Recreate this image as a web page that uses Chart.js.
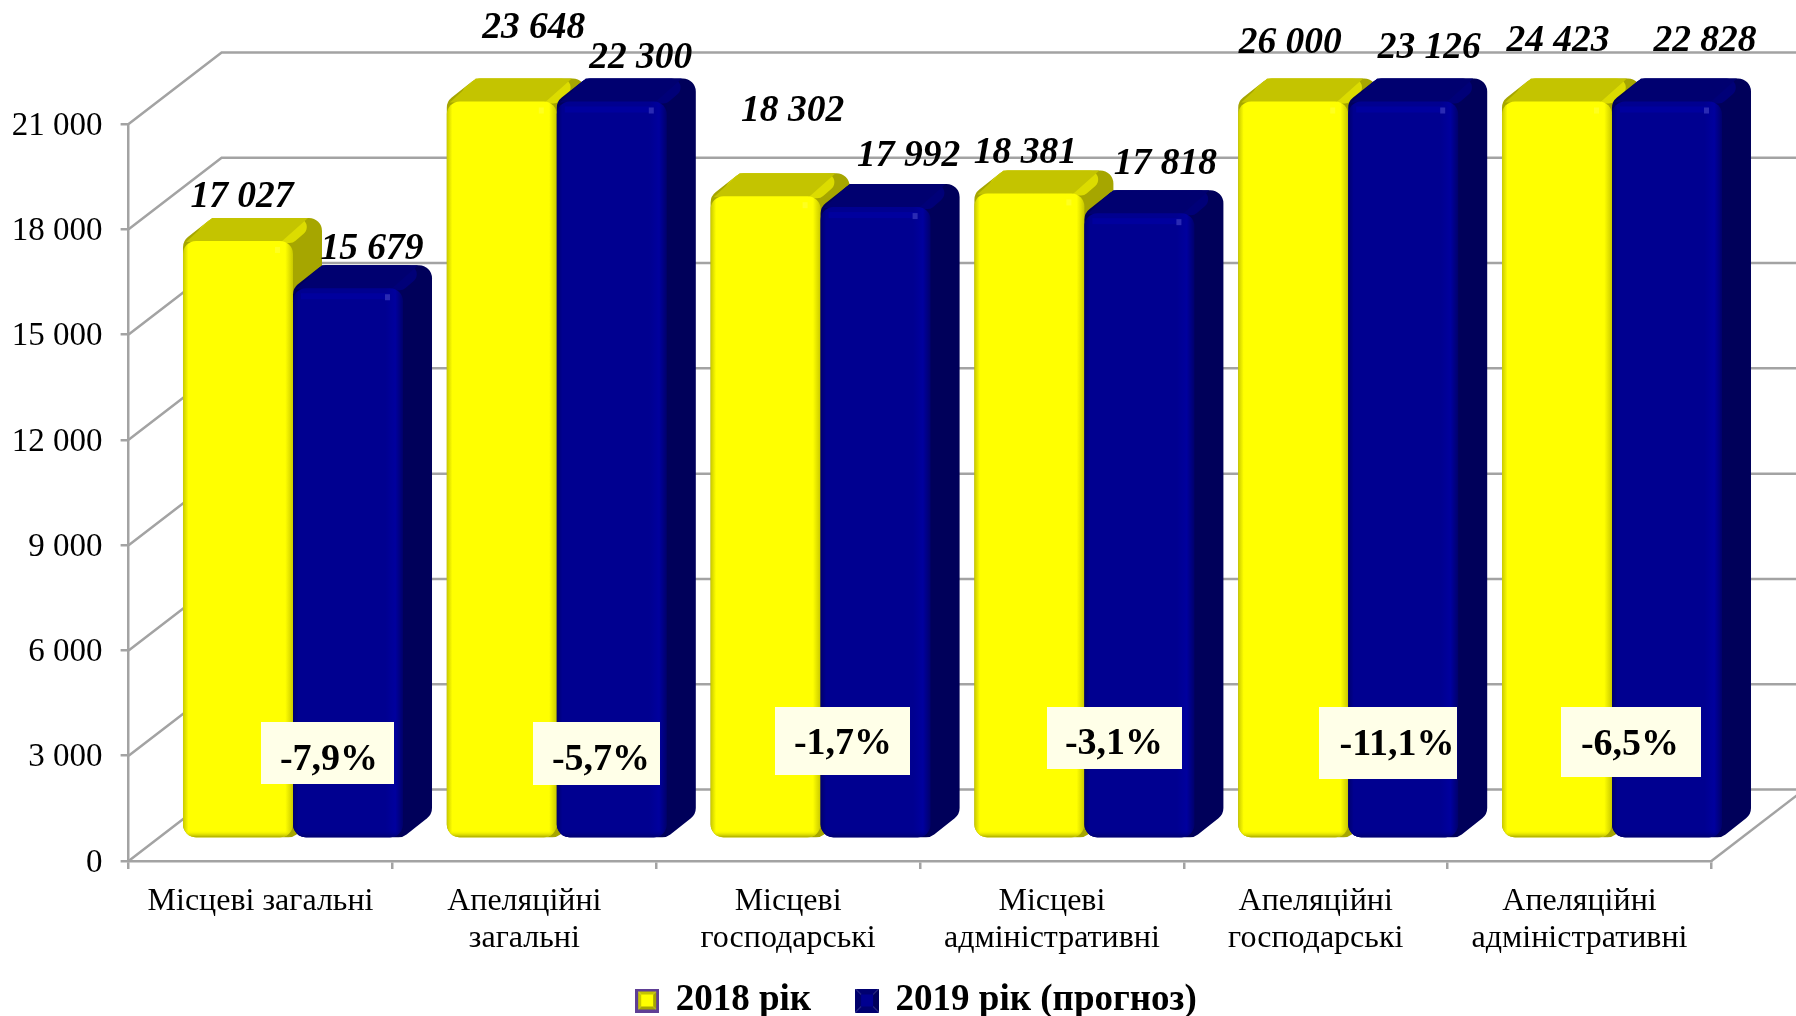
<!DOCTYPE html>
<html>
<head>
<meta charset="utf-8">
<title>Chart</title>
<script src="https://cdn.jsdelivr.net/npm/chart.js@4"></script>
<style>
  html, body { margin: 0; padding: 0; background: #fff; }
  #wrap { position: relative; width: 1796px; height: 1016px; overflow: hidden; }
</style>
</head>
<body>
<div id="wrap"><canvas id="courts"></canvas></div>
<script>
"use strict";

// Data
const categories = [
  "Місцеві загальні",
  ["Апеляційні", "загальні"],
  ["Місцеві", "господарські"],
  ["Місцеві", "адміністративні"],
  ["Апеляційні", "господарські"],
  ["Апеляційні", "адміністративні"]
];
const values2018 = [17027, 23648, 18302, 18381, 26000, 24423];
const values2019 = [15679, 22300, 17992, 17818, 23126, 22828];
const changeLabels = ["-7,9%", "-5,7%", "-1,7%", "-3,1%", "-11,1%", "-6,5%"];
const seriesNames = ["2018 рік", "2019 рік (прогноз)"];
const axisMax = 21000;
const axisStep = 3000;

// 3D look: wall depth, bar plane offset and bar depth, in px
const WALL_DX = 93, WALL_DY = 71.5;
const PLANE_DX = 32.5, PLANE_DY = 22.5;
const BAR_DX = 29, BAR_DY = 23;
const GRID = "#a3a3a3";
const FONT = "'Liberation Serif', 'Times New Roman', serif";

// Hand placed value labels, offset from the top centre of each bar
const labelOffsets = [
  [[4, -44], [32, -73], [27, -85], [-4, -40], [-3, -58], [1, -60]],
  [[24, -39], [29, -43], [33, -51], [26, -49], [26, -53], [38, -60]]
];
// Callout boxes for the change labels: x, y, w, h, text centre x, text centre y
const changeBoxes = [
  [261, 722, 133, 62, 329, 760],
  [533, 722, 127, 63, 601, 760],
  [775, 707, 135, 68, 843, 744],
  [1047, 707, 135, 62, 1114, 744],
  [1319, 707, 138, 72, 1397, 745],
  [1561, 707, 140, 70, 1630, 745]
];

const skins = [
  { front: "#ffff00", edge: "#c9c900", shine: "#ffff00", glow: "#ffff20", bottom: "#a8a800", top: "#c4c400", topSide: "#dcdc00", side: "#a6a600" },
  { front: "#000090", edge: "#00006c", shine: "#00009e", glow: "#2a2ab4", bottom: "#000070", top: "#000070", topSide: "#000078", side: "#00005a" }
];

function roundedPoly(ctx, pts, r) {
  ctx.beginPath();
  const n = pts.length;
  ctx.moveTo((pts[n - 1][0] + pts[0][0]) / 2, (pts[n - 1][1] + pts[0][1]) / 2);
  for (let i = 0; i < n; i++) {
    const p = pts[i], q = pts[(i + 1) % n];
    ctx.arcTo(p[0], p[1], (p[0] + q[0]) / 2, (p[1] + q[1]) / 2, r);
  }
  ctx.closePath();
}

function drawBar3d(ctx, x0, x1, top, bottom, s) {
  // silhouette with side face
  ctx.fillStyle = s.side;
  roundedPoly(ctx, [
    [x0, top], [x0 + BAR_DX, top - BAR_DY], [x1 + BAR_DX, top - BAR_DY],
    [x1 + BAR_DX, bottom - BAR_DY], [x1, bottom], [x0, bottom]
  ], 13);
  ctx.fill();

  // top face
  ctx.fillStyle = s.topSide;
  roundedPoly(ctx, [
    [x0, top + 2], [x0 + BAR_DX, top - BAR_DY], [x1 + BAR_DX, top - BAR_DY], [x1, top + 2]
  ], 9);
  ctx.fill();
  ctx.fillStyle = s.top;
  ctx.beginPath();
  ctx.moveTo(x0 + 3, top + 1);
  ctx.lineTo(x0 + BAR_DX, top - BAR_DY);
  ctx.lineTo(x1 + BAR_DX - 14, top - BAR_DY);
  ctx.lineTo(x1 - 12, top + 1);
  ctx.closePath();
  ctx.fill();

  // front face, darker towards the edges
  const grad = ctx.createLinearGradient(x0, 0, x1, 0);
  grad.addColorStop(0, s.edge);
  grad.addColorStop(0.05, s.front);
  grad.addColorStop(0.84, s.front);
  grad.addColorStop(0.93, s.shine);
  grad.addColorStop(1, s.edge);
  ctx.fillStyle = grad;
  ctx.beginPath();
  ctx.roundRect(x0, top, x1 - x0, bottom - top, 13);
  ctx.fill();

  // highlight near the top right corner
  ctx.fillStyle = s.shine;
  ctx.fillRect(x0 + 8, top + 5, x1 - x0 - 22, 6);
  ctx.fillStyle = s.glow;
  ctx.fillRect(x1 - 18, top + 6, 5, 6);

  const low = ctx.createLinearGradient(0, bottom - 7, 0, bottom);
  low.addColorStop(0, s.front + "00");
  low.addColorStop(1, s.bottom);
  ctx.fillStyle = low;
  ctx.beginPath();
  ctx.roundRect(x0, bottom - 13, x1 - x0, 13, [0, 0, 13, 13]);
  ctx.fill();
}

function legendMarker(s, border) {
  const c = document.createElement("canvas");
  c.width = 24; c.height = 24;
  const g = c.getContext("2d");
  const face = (color, pts) => {
    g.fillStyle = color;
    g.beginPath();
    pts.forEach((p, i) => i ? g.lineTo(p[0], p[1]) : g.moveTo(p[0], p[1]));
    g.closePath();
    g.fill();
  };
  face(s.top, [[0, 0], [24, 0], [18, 6], [6, 6]]);
  face(s.edge, [[0, 0], [6, 6], [6, 18], [0, 24]]);
  face(s.side, [[24, 0], [24, 24], [18, 18], [18, 6]]);
  face(s.bottom, [[0, 24], [24, 24], [18, 18], [6, 18]]);
  g.fillStyle = s.front;
  g.fillRect(6, 6, 12, 12);
  if (border) {
    g.strokeStyle = border;
    g.lineWidth = 3;
    g.strokeRect(1.5, 1.5, 21, 21);
  }
  return c;
}
const markers = [legendMarker(skins[0], "#5f3f95"), legendMarker(skins[1], null)];

// Walls and floor behind the bars
function drawWalls(chart) {
  const { ctx, chartArea: a, scales: { y } } = chart;
  ctx.save();
  ctx.strokeStyle = GRID;
  ctx.lineWidth = 2.5;
  y.ticks.forEach(t => {
    const py = y.getPixelForValue(t.value);
    ctx.beginPath();
    ctx.moveTo(a.left, py);
    ctx.lineTo(a.left + WALL_DX, py - WALL_DY);
    ctx.lineTo(chart.width, py - WALL_DY);
    ctx.stroke();
  });
  ctx.beginPath();
  ctx.moveTo(a.right, a.bottom);
  ctx.lineTo(a.right + WALL_DX, a.bottom - WALL_DY);
  ctx.stroke();
  ctx.restore();
}

// Bars are drawn from the bar elements, pushed back onto the bar plane and cut at the axis max
const bars3dPlugin = {
  id: "bars3d",
  afterLayout(chart) {
    chart.legend.left -= 3;
    chart.legend.right -= 3;
  },
  beforeDatasetsDraw(chart) {
    drawWalls(chart);
    const { ctx, chartArea: a } = chart;
    // yellow first, so blue covers its side face
    [0, 1].forEach(d => {
      chart.getDatasetMeta(d).data.forEach(bar => {
        const top = Math.max(bar.y, a.top) - PLANE_DY;
        const x0 = bar.x - bar.width / 2 + PLANE_DX;
        drawBar3d(ctx, x0, x0 + bar.width, top, bar.base - PLANE_DY, skins[d]);
      });
    });
  },
  beforeDatasetDraw() {
    return false; // flat bars are replaced by the ones above
  },
  afterDatasetsDraw(chart) {
    const { ctx, chartArea: a } = chart;
    ctx.save();
    ctx.fillStyle = "#000";
    ctx.textAlign = "center";
    ctx.textBaseline = "middle";

    // value labels
    ctx.font = "italic bold 37.5px " + FONT;
    chart.data.datasets.forEach((ds, d) => {
      chart.getDatasetMeta(d).data.forEach((bar, i) => {
        const top = Math.max(bar.y, a.top) - PLANE_DY;
        const off = labelOffsets[d][i];
        const text = ds.data[i].toLocaleString("en-US").replace(",", " ");
        ctx.fillText(text, bar.x + PLANE_DX + off[0], top + off[1]);
      });
    });

    // change callouts
    changeLabels.forEach((text, i) => {
      const b = changeBoxes[i];
      ctx.fillStyle = "#ffffe8";
      ctx.fillRect(b[0], b[1], b[2], b[3]);
      ctx.fillStyle = "#000";
      ctx.font = "bold 38px " + FONT;
      ctx.fillText(text, b[4], b[5]);
    });
    ctx.restore();
  }
};

document.addEventListener("DOMContentLoaded", () => {
  const cv = document.getElementById("courts");
  new Chart(cv.getContext("2d"), {
    type: "bar",
    data: {
      labels: categories,
      datasets: [
        { label: seriesNames[0], data: values2018, backgroundColor: skins[0].front, categoryPercentage: 0.834, barPercentage: 1 },
        { label: seriesNames[1], data: values2019, backgroundColor: skins[1].front, categoryPercentage: 0.834, barPercentage: 1 }
      ]
    },
    plugins: [bars3dPlugin],
    options: {
      responsive: true,
      maintainAspectRatio: false,
      animation: false,
      layout: { padding: { top: 124, left: 0, right: 84.6, bottom: -13 } },
      scales: {
        x: {
          offset: true,
          afterFit: s => {
            s.height = 75;
            s._computeLabelArea = () => undefined; // second label line runs past the box
          },
          grid: { drawOnChartArea: false, color: GRID, lineWidth: 2.5, tickLength: 8 },
          border: { color: GRID, width: 2.5 },
          ticks: { color: "#000", padding: 14, maxRotation: 0, autoSkip: false, font: { family: FONT, size: 32, lineHeight: 1.15 } }
        },
        y: {
          min: 0,
          max: axisMax,
          afterFit: s => { s.width = 128.6; },
          grid: { drawOnChartArea: false, color: GRID, lineWidth: 2.5, tickLength: 8 },
          border: { color: GRID, width: 2.5 },
          ticks: {
            stepSize: axisStep,
            color: "#000",
            padding: 18,
            labelOffset: 2,
            font: { family: FONT, size: 33 },
            callback: v => v.toLocaleString("en-US").replace(",", " ")
          }
        }
      },
      plugins: {
        tooltip: { enabled: false },
        legend: {
          position: "bottom",
          fullSize: false,
          labels: {
            color: "#000",
            usePointStyle: true,
            boxWidth: 20,
            boxHeight: 24,
            padding: 46,
            font: { family: FONT, size: 37, weight: "bold" },
            generateLabels: chart => chart.data.datasets.map((ds, i) => ({
              text: ds.label,
              fontColor: "#000",
              pointStyle: markers[i],
              datasetIndex: i,
              lineWidth: 0
            }))
          }
        }
      }
    }
  });
});
</script>
</body>
</html>
